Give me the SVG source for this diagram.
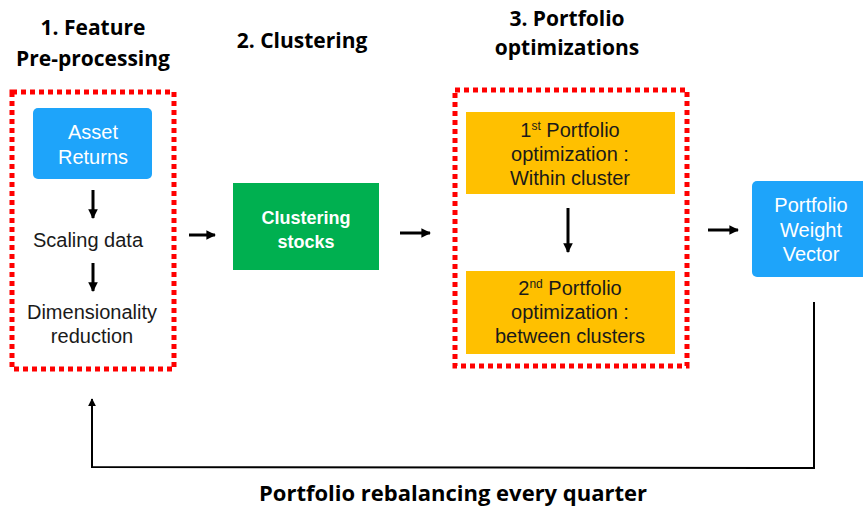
<svg xmlns="http://www.w3.org/2000/svg" width="863" height="509" viewBox="0 0 863 509">
<defs>
<style>
.title{font-family:"Open Sans","Liberation Sans",sans-serif;font-weight:bold;font-size:21px;fill:#000;text-anchor:middle}
.lbl{font-family:"Liberation Sans",Arial,sans-serif;font-size:20px;text-anchor:middle}
.w{fill:#fff}
.d{fill:#1a1a1a}
.dash{fill:none;stroke:#ff0000;stroke-width:5;stroke-dasharray:5 4}
.arr{stroke:#000;stroke-width:3;fill:none}
.fb{stroke:#000;stroke-width:2;fill:none}
</style>
<marker id="ah" viewBox="0 0 10 10" refX="9" refY="5" markerWidth="3.2" markerHeight="3.2" orient="auto" markerUnits="strokeWidth">
<path d="M0,0 L10,5 L0,10 z" fill="#000"/>
</marker>
<marker id="ah2" viewBox="0 0 10 10" refX="9" refY="5" markerWidth="4" markerHeight="4" orient="auto" markerUnits="strokeWidth">
<path d="M0,0 L10,5 L0,10 z" fill="#000"/>
</marker>
</defs>
<rect width="863" height="509" fill="#fff"/>
<g id="titles">
<text class="title" x="93" y="35">1. Feature</text>
<text class="title" x="93" y="66">Pre-processing</text>
<text class="title" x="302" y="48">2. Clustering</text>
<text class="title" x="567" y="26">3. Portfolio</text>
<text class="title" x="567" y="55">optimizations</text>
<text class="title" x="453" y="501" style="font-size:22px">Portfolio rebalancing every quarter</text>
</g>
<g id="stage1">
<rect class="dash" x="12" y="92" width="162" height="277"/>
</g>
<g id="asset-returns">
<rect x="33" y="108" width="119" height="71" rx="5" fill="#1ea4fa"/>
<text class="lbl w" x="93" y="139">Asset</text>
<text class="lbl w" x="93" y="164">Returns</text>
</g>
<g id="scaling">
<text class="lbl d" x="88" y="247">Scaling data</text>
</g>
<g id="dimred">
<text class="lbl d" x="92" y="319">Dimensionality</text>
<text class="lbl d" x="92" y="343">reduction</text>
</g>
<g id="clustering">
<rect x="233" y="183" width="146" height="87" fill="#00b050"/>
<text class="lbl w" x="306" y="224" style="font-weight:bold;font-size:18px">Clustering</text>
<text class="lbl w" x="306" y="248" style="font-weight:bold;font-size:18px">stocks</text>
</g>
<g id="stage3">
<rect class="dash" x="455" y="90" width="232" height="276"/>
</g>
<g id="opt1">
<rect x="466" y="112" width="209" height="82" fill="#ffc000"/>
<text class="lbl d" x="570" y="137"><tspan>1</tspan><tspan font-size="12" dy="-7">st</tspan><tspan dy="7"> Portfolio</tspan></text>
<text class="lbl d" x="570" y="161">optimization :</text>
<text class="lbl d" x="570" y="185">Within cluster</text>
</g>
<g id="opt2">
<rect x="466" y="271" width="209" height="83" fill="#ffc000"/>
<text class="lbl d" x="570" y="295"><tspan>2</tspan><tspan font-size="12" dy="-7">nd</tspan><tspan dy="7"> Portfolio</tspan></text>
<text class="lbl d" x="570" y="319">optimization :</text>
<text class="lbl d" x="570" y="343">between clusters</text>
</g>
<g id="weights">
<rect x="752" y="181" width="120" height="96" rx="5" fill="#1ea4fa"/>
<text class="lbl w" x="811" y="212">Portfolio</text>
<text class="lbl w" x="811" y="237">Weight</text>
<text class="lbl w" x="811" y="261">Vector</text>
</g>
<g id="connectors">
<line class="arr" x1="93" y1="190" x2="93" y2="218" marker-end="url(#ah)"/>
<line class="arr" x1="93" y1="263" x2="93" y2="291" marker-end="url(#ah)"/>
<line class="arr" x1="189" y1="235" x2="215" y2="235" marker-end="url(#ah)"/>
<line class="arr" x1="400" y1="233" x2="430" y2="233" marker-end="url(#ah)"/>
<line class="arr" x1="568" y1="208" x2="568" y2="252" marker-end="url(#ah)"/>
<line class="arr" x1="708" y1="230" x2="738" y2="230" marker-end="url(#ah)"/>
<polyline class="fb" points="814,302 814,468 92,467 92,399" marker-end="url(#ah2)"/>
</g>
</svg>
